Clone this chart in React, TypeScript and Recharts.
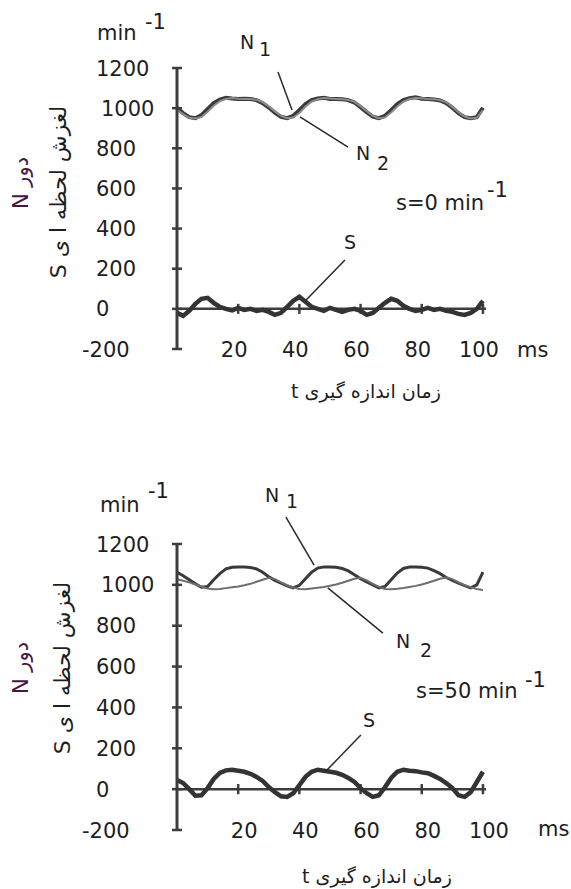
import { LineChart, Line, XAxis, YAxis, ReferenceLine } from "recharts";

// time axis (ms), sampled every 2 ms
const times = [
  0, 2, 4, 6, 8, 10, 12, 14, 16, 18, 20, 22, 24, 26, 28, 30, 32, 34, 36, 38, 40,
  42, 44, 46, 48, 50, 52, 54, 56, 58, 60, 62, 64, 66, 68, 70, 72, 74, 76, 78, 80,
  82, 84, 86, 88, 90, 92, 94, 96, 98, 100,
];

// s = 0 min^-1
const topN1 = [
  1000, 975, 955, 950, 965, 995, 1025, 1042, 1052, 1048, 1046, 1047, 1045, 1040,
  1025, 1003, 978, 957, 950, 962, 990, 1020, 1040, 1048, 1052, 1046, 1045, 1044,
  1040, 1028, 1005, 980, 958, 950, 962, 990, 1020, 1040, 1050, 1054, 1047, 1045,
  1043, 1038, 1025, 1002, 975, 955, 950, 955, 1002,
];
const topN2 = [
  992, 970, 952, 948, 956, 982, 1012, 1035, 1046, 1050, 1047, 1046, 1045, 1042,
  1030, 1008, 984, 962, 950, 953, 976, 1008, 1032, 1045, 1050, 1048, 1046, 1044,
  1041, 1031, 1010, 985, 962, 950, 954, 978, 1008, 1032, 1046, 1051, 1049, 1046,
  1044, 1040, 1029, 1006, 980, 958, 949, 952, 990,
];
const topS = [
  -20, -35, -10, 25, 50, 55, 30, 10, 0, -8, 5, -5, 0, -10, -5, -15, -30, -20, 10,
  40, 60, 35, 10, 0, -10, 5, -5, -15, -5, 0, -10, -30, -20, 5, 30, 50, 40, 15, 0,
  -10, -5, 5, -5, 0, -10, -15, -25, -30, -20, 0, 40,
];

// s = 50 min^-1
const botN1 = [
  1062, 1045, 1025, 1005, 988, 992, 1025, 1055, 1078, 1086, 1088, 1087, 1085,
  1078, 1062, 1040, 1022, 1008, 995, 985, 998, 1030, 1062, 1082, 1088, 1087, 1086,
  1080, 1068, 1050, 1030, 1015, 1000, 985, 992, 1025, 1058, 1080, 1087, 1088,
  1086, 1082, 1070, 1055, 1036, 1022, 1008, 996, 985, 1000, 1062,
];
const botN2 = [
  1028, 1020, 1012, 1002, 992, 982, 978, 980, 984, 988, 992, 998, 1005, 1015,
  1025, 1035, 1028, 1012, 998, 987, 980, 978, 982, 986, 990, 996, 1002, 1010,
  1020, 1030, 1035, 1022, 1005, 990, 980, 978, 981, 985, 990, 995, 1002, 1010,
  1020, 1030, 1036, 1028, 1012, 998, 988, 980, 975,
];
const botS = [
  45, 30, 0, -32, -30, 5, 50, 80, 92, 95, 90, 85, 75, 60, 40, 10, -15, -35, -38,
  -20, 20, 60, 85, 95, 90, 85, 80, 70, 55, 35, 5, -20, -38, -30, 10, 55, 85, 95,
  90, 88, 82, 78, 65, 50, 30, 5, -30, -38, -15, 35, 85,
];

const yTicks = [-200, 0, 200, 400, 600, 800, 1000, 1200];
const xTicks = [20, 40, 60, 80, 100];

const FONT = "DejaVu Sans";
const ink = "#1e1e1e";
const axisColor = "#3d3d3d";

function rows(n1: number[], n2: number[], s: number[]) {
  return times.map((t, i) => ({ t, n1: n1[i], n2: n2[i], s: s[i] }));
}

function YTick(props: any) {
  const { x, y, payload } = props;
  const v = payload.value;
  const shift = v === 1000 ? 5 : v < 0 ? -14 : 0;
  return (
    <g>
      <line x1={x - 5} x2={x + 5} y1={y} y2={y} stroke={axisColor} strokeWidth={2.5} />
      <text x={x - 81 + shift} y={y} dy="0.36em" fontSize={21} fill={ink} fontFamily={FONT}>
        {v}
      </text>
    </g>
  );
}

function makeXTick(dx: number) {
  return function XTick(props: any) {
    const { x, y, payload } = props;
    return (
      <text x={x + dx} y={y} dy="0.36em" textAnchor="middle" fontSize={21} fill={ink} fontFamily={FONT}>
        {payload.value}
      </text>
    );
  };
}

type Seg = [number, number, number, number];

function Panel(props: {
  n1: number[];
  n2: number[];
  s: number[];
  height: number;
  top: number;
  plotH: number;
  xdx: number;
  leaders: Seg[];
  n1Color: string;
  n1Width: number;
  n2Color: string;
  n2Width: number;
}) {
  const data = rows(props.n1, props.n2, props.s);
  const bottom = props.height - props.top - props.plotH - 30;
  return (
    <LineChart
      width={571}
      height={props.height}
      data={data}
      margin={{ top: props.top, right: 85, bottom, left: 117 }}
    >
      <XAxis
        dataKey="t"
        type="number"
        domain={[0, 101]}
        ticks={xTicks}
        height={30}
        axisLine={false}
        tickLine={false}
        tickSize={0}
        tickMargin={0}
        tick={makeXTick(props.xdx)}
      />
      <YAxis
        type="number"
        domain={[-200, 1200]}
        ticks={yTicks}
        width={60}
        axisLine={{ stroke: axisColor, strokeWidth: 3 }}
        tickLine={false}
        tickSize={0}
        tickMargin={0}
        tick={<YTick />}
        interval={0}
      />
      <ReferenceLine y={0} stroke={axisColor} strokeWidth={2.5} />
      {xTicks.map((x) => (
        <ReferenceLine
          key={x}
          segment={[
            { x, y: -25 },
            { x, y: 25 },
          ]}
          stroke={axisColor}
          strokeWidth={2.5}
        />
      ))}
      <Line
        dataKey="n1"
        stroke={props.n1Color}
        strokeWidth={props.n1Width}
        dot={false}
        isAnimationActive={false}
      />
      <Line
        dataKey="n2"
        stroke={props.n2Color}
        strokeWidth={props.n2Width}
        dot={false}
        isAnimationActive={false}
      />
      <Line dataKey="s" stroke="#333" strokeWidth={4.5} dot={false} isAnimationActive={false} />
      {props.leaders.map((l, i) => (
        <ReferenceLine
          key={"l" + i}
          segment={[
            { x: l[0], y: l[1] },
            { x: l[2], y: l[3] },
          ]}
          stroke="#2a2a2a"
          strokeWidth={1.5}
          ifOverflow="visible"
        />
      ))}
    </LineChart>
  );
}

const topLeaders: Seg[] = [
  [33, 1180, 37.6, 991],
  [40.2, 956, 55.9, 806],
  [54.9, 243, 42.2, 44],
];
const botLeaders: Seg[] = [
  [35.6, 1332, 44.8, 1097],
  [49.3, 985, 67.3, 764],
  [60.1, 265, 48.4, 84],
];

function T(p: { x: number; y: number; s?: number; c?: string; a?: "start" | "middle"; children: any }) {
  return (
    <text x={p.x} y={p.y} fontSize={p.s ?? 21} fill={p.c ?? ink} fontFamily={FONT} textAnchor={p.a ?? "start"}>
      {p.children}
    </text>
  );
}

function Rot(p: { x: number; y: number; s: number; c: string; children: any }) {
  return (
    <text
      x={p.x}
      y={p.y}
      fontSize={p.s}
      fill={p.c}
      fontFamily={FONT}
      textAnchor="middle"
      dominantBaseline="central"
      transform={`rotate(-90 ${p.x} ${p.y})`}
    >
      {p.children}
    </text>
  );
}

export default function App() {
  return (
    <div
      style={{
        position: "absolute",
        left: 0,
        top: 0,
        width: 571,
        height: 889,
        background: "#fff",
        overflow: "hidden",
      }}
    >
      <div style={{ position: "absolute", left: 0, top: 0 }}>
        <Panel
          n1={topN1}
          n2={topN2}
          s={topS}
          height={420}
          top={68}
          plotH={281}
          xdx={-4}
          leaders={topLeaders}
          n1Color="#3a3a3a"
          n1Width={4}
          n2Color="#8c8c8c"
          n2Width={2}
        />
      </div>
      <div style={{ position: "absolute", left: 0, top: 460 }}>
        <Panel
          n1={botN1}
          n2={botN2}
          s={botS}
          height={429}
          top={84}
          plotH={286}
          xdx={6}
          leaders={botLeaders}
          n1Color="#3a3a3a"
          n1Width={3}
          n2Color="#6e6e6e"
          n2Width={2}
        />
      </div>
      <svg
        width={571}
        height={889}
        style={{ position: "absolute", left: 0, top: 0, pointerEvents: "none" }}
      >
        {/* top panel labels */}
        <T x={97} y={40}>min</T>
        <T x={145} y={29}>-1</T>
        <T x={240} y={49} s={19}>N</T>
        <T x={259} y={56} s={19}>1</T>
        <T x={356} y={160} s={19}>N</T>
        <T x={377} y={170} s={19}>2</T>
        <T x={396} y={210}>s=0 min</T>
        <T x={487} y={197}>-1</T>
        <T x={344} y={249} s={19}>S</T>
        <T x={517} y={357}>ms</T>
        <T x={366} y={398} s={19} a="middle">t زمان اندازه گیری</T>
        <Rot x={21} y={183} s={21} c="#45183f">N دور</Rot>
        <Rot x={58} y={192} s={22} c={ink}>S لغزش لحظه ا ی</Rot>

        {/* bottom panel labels */}
        <T x={100} y={512}>min</T>
        <T x={148} y={498}>-1</T>
        <T x={265} y={502} s={19}>N</T>
        <T x={286} y={508} s={19}>1</T>
        <T x={396} y={648} s={19}>N</T>
        <T x={420} y={657} s={19}>2</T>
        <T x={416} y={698}>s=50 min</T>
        <T x={525} y={687}>-1</T>
        <T x={363} y={727} s={19}>S</T>
        <T x={538} y={836}>ms</T>
        <T x={377} y={883} s={19} a="middle">t زمان اندازه گیری</T>
        <Rot x={21} y={668} s={21} c="#45183f">N دور</Rot>
        <Rot x={62} y={668} s={22} c={ink}>S لغزش لحظه ا ی</Rot>
      </svg>
    </div>
  );
}
